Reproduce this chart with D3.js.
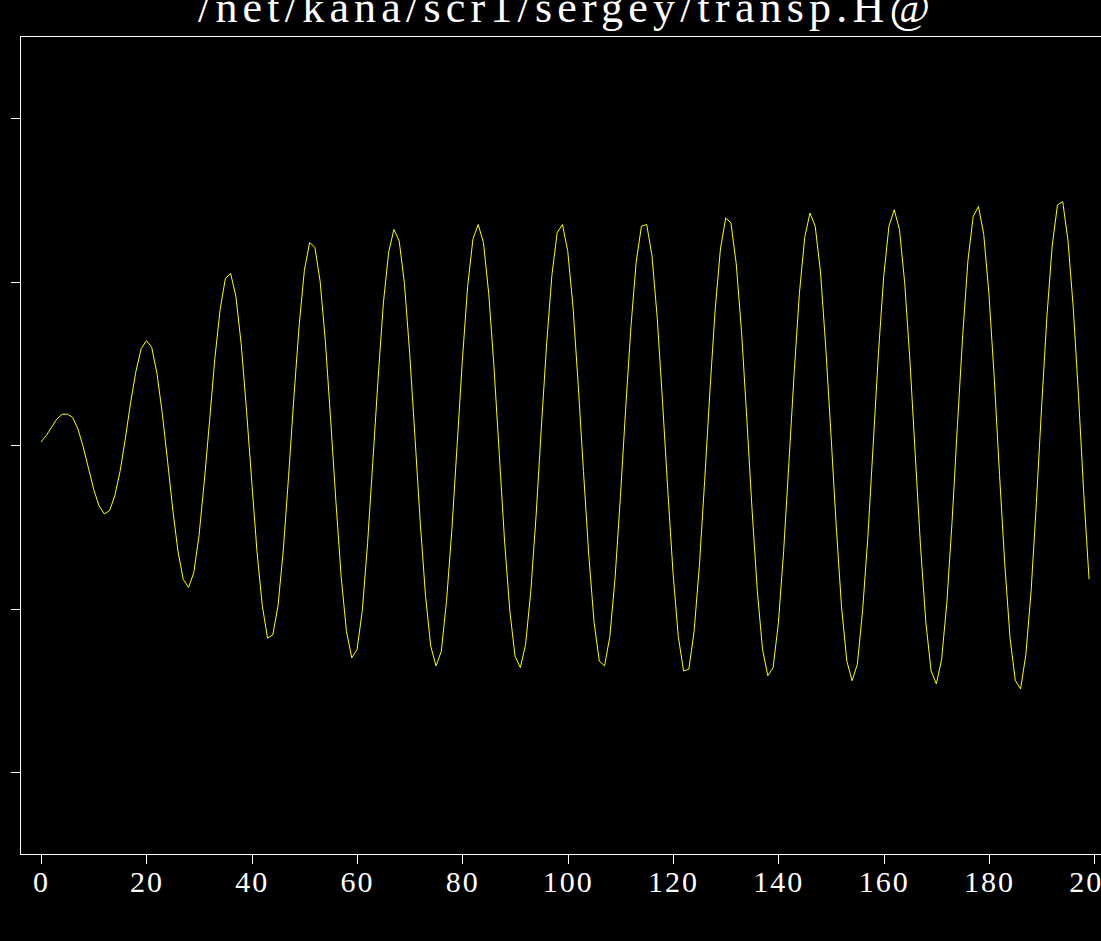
<!DOCTYPE html>
<html>
<head>
<meta charset="utf-8">
<script src="https://cdn.jsdelivr.net/npm/d3@7"></script>
<style>
  html, body { margin: 0; padding: 0; background: #000; overflow: hidden; }
  svg { display: block; }
</style>
</head>
<body>
<div id="chart"></div>
<script>
// trace title (cut off at the top of the window)
const title = '/net/kana/scr1/sergey/transp.H@';

// tick values
const xTicks = [0, 20, 40, 60, 80, 100, 120, 140, 160, 180, 200];
const yTicks = [-2, -1, 0, 1, 2];

// one sample per trace index
const amplitude = [
  0.02, 0.06, 0.11, 0.16, 0.19, 0.19, 0.17, 0.10, -0.01, -0.14,
  -0.27, -0.37, -0.42, -0.40, -0.31, -0.16, 0.04, 0.26, 0.45, 0.59,
  0.64, 0.60, 0.44, 0.20, -0.09, -0.39, -0.65, -0.82, -0.87, -0.78,
  -0.55, -0.22, 0.15, 0.53, 0.83, 1.02, 1.05, 0.91, 0.62, 0.22,
  -0.22, -0.65, -0.98, -1.18, -1.16, -0.98, -0.64, -0.19, 0.29, 0.73,
  1.07, 1.24, 1.21, 1.00, 0.63, 0.15, -0.35, -0.81, -1.14, -1.30,
  -1.25, -1.01, -0.60, -0.10, 0.41, 0.87, 1.18, 1.32, 1.25, 0.99,
  0.56, 0.05, -0.47, -0.92, -1.23, -1.35, -1.26, -0.95, -0.52, 0.00,
  0.52, 0.97, 1.26, 1.35, 1.24, 0.93, 0.48, -0.05, -0.58, -1.01,
  -1.29, -1.36, -1.22, -0.89, -0.43, 0.11, 0.62, 1.04, 1.30, 1.35,
  1.19, 0.85, 0.37, -0.16, -0.67, -1.08, -1.32, -1.35, -1.17, -0.81,
  -0.32, 0.22, 0.72, 1.12, 1.34, 1.35, 1.16, 0.78, 0.27, -0.27,
  -0.78, -1.17, -1.38, -1.37, -1.14, -0.74, -0.22, 0.33, 0.83, 1.20,
  1.39, 1.36, 1.11, 0.70, 0.17, -0.39, -0.89, -1.25, -1.41, -1.36,
  -1.09, -0.65, -0.11, 0.44, 0.93, 1.27, 1.42, 1.34, 1.06, 0.60,
  0.06, -0.50, -0.99, -1.32, -1.44, -1.34, -1.01, -0.56, 0.00, 0.56,
  1.03, 1.34, 1.44, 1.32, 0.99, 0.51, -0.06, -0.62, -1.08, -1.38,
  -1.46, -1.31, -0.96, -0.46, 0.12, 0.67, 1.13, 1.40, 1.46, 1.29,
  0.92, 0.41, -0.18, -0.73, -1.18, -1.44, -1.49, -1.28, -0.89, -0.35,
  0.24, 0.79, 1.22, 1.47, 1.49, 1.25, 0.84, 0.30, -0.30, -0.82
];

const width = 1101;
const height = 941;

// the frame runs past the right edge of the window
const frame = { left: 20, top: 36.5, right: 1115.4, bottom: 854 };

const svg = d3
  .select('#chart')
  .append('svg')
  .attr('width', width)
  .attr('height', height);

const x = d3
  .scaleLinear()
  .domain([-4, 204])
  .range([frame.left, frame.right]);

const y = d3
  .scaleLinear()
  .domain([-2.5, 2.5])
  .range([frame.bottom, frame.top]);

/* title */
svg
  .append('text')
  .attr('x', 564)
  .attr('y', 22)
  .attr('text-anchor', 'middle')
  .attr('font-family', 'Liberation Serif, serif')
  .attr('font-size', 44)
  .attr('fill', '#fff')
  .attr('textLength', 732)
  .attr('lengthAdjust', 'spacing')
  .text(title);

/* frame */
svg
  .append('rect')
  .attr('x', frame.left + 0.5)
  .attr('y', frame.top)
  .attr('width', frame.right - frame.left)
  .attr('height', frame.bottom - frame.top)
  .attr('fill', 'none')
  .attr('stroke', '#fff')
  .attr('stroke-width', 1)
  .attr('shape-rendering', 'crispEdges');

/* bottom axis */
const xAxis = svg
  .append('g')
  .attr('transform', `translate(0,${frame.bottom})`)
  .call(
    d3.axisBottom(x)
      .tickValues(xTicks)
      .tickSize(10)
      .tickSizeOuter(0)
      .tickFormat(d3.format('d'))
  );
xAxis.select('.domain').remove();
xAxis.selectAll('line')
  .attr('stroke', '#fff')
  .attr('shape-rendering', 'crispEdges');
xAxis.selectAll('text')
  .attr('y', 38)
  .attr('dy', 0)
  .attr('fill', '#fff')
  .attr('font-family', 'Liberation Serif, serif')
  .attr('font-size', 30)
  .attr('letter-spacing', 2);

/* left axis, labels fall outside the window */
const yAxis = svg
  .append('g')
  .attr('transform', `translate(${frame.left},0)`)
  .call(
    d3.axisLeft(y)
      .tickValues(yTicks)
      .tickSize(9)
      .tickSizeOuter(0)
      .tickFormat('')
  );
yAxis.select('.domain').remove();
yAxis.selectAll('line')
  .attr('stroke', '#fff')
  .attr('shape-rendering', 'crispEdges');

/* the trace */
const line = d3
  .line()
  .x((_d, i) => x(i))
  .y(d => y(d));

svg
  .append('path')
  .datum(amplitude)
  .attr('d', line)
  .attr('fill', 'none')
  .attr('stroke', '#ffff00')
  .attr('stroke-width', 1);
</script>
</body>
</html>
